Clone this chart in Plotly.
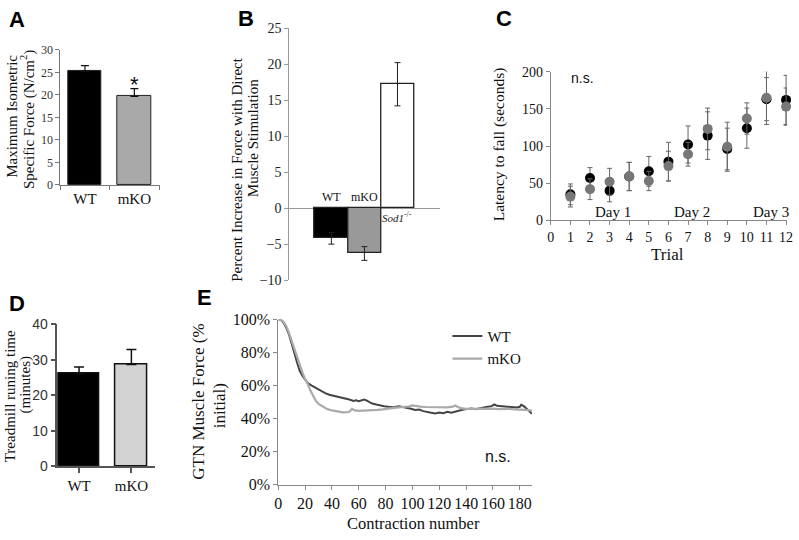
import plotly.graph_objects as go

# ---------------- data ----------------
# A: maximum isometric specific force
a_groups = ["WT", "mKO"]
a_force = [25.3, 19.7]
a_err = [1.2, 1.7]

# B: percent increase in force with direct muscle stimulation
b_groups = ["WT", "mKO", "Sod1-/-"]
b_change = [-4.2, -6.3, 17.2]
b_err = [0.8, 0.95, 3.0]

# C: latency to fall per trial
c_trials = [1, 2, 3, 4, 5, 6, 7, 8, 9, 10, 11, 12]
c_wt = [35, 57, 40, 59, 66, 79, 102, 114, 96, 124, 163, 162]
c_wt_err = [14, 14, 15, 19, 20, 26, 25, 32, 28, 27, 29, 33]
c_mko = [32, 42, 52, 59, 53, 73, 89, 123, 99, 137, 165, 153]
c_mko_err = [14, 14, 18, 19, 13, 20, 16, 28, 33, 21, 36, 25]
c_days = ["Day 1", "Day 2", "Day 3"]

# D: treadmill running time
d_groups = ["WT", "mKO"]
d_time = [26.1, 28.7]
d_err = [1.9, 4.2]

# E: GTN muscle force (% initial) vs contraction number
e_wt_x = [0, 2, 4, 6, 8, 10, 12, 14, 16, 18, 20, 22, 25, 28, 31, 35, 38, 42, 46, 50,
          53, 56, 58, 60, 62, 64, 66, 68, 70, 73, 76, 79, 82, 86, 90, 93, 96, 99, 102,
          105, 108, 111, 114, 117, 120, 123, 126, 129, 132, 135, 138, 141, 144, 147,
          150, 153, 156, 159, 161, 163, 166, 169, 172, 175, 178, 180, 181, 183, 185,
          187, 189]
e_wt = [100, 100, 98, 95, 91, 86, 80, 74, 69, 66, 63.5, 61.5, 60, 58.5, 57, 55.5, 54.5,
        53.8, 53, 52.2, 51.6, 50.8, 51.2, 50.6, 51.3, 51.6, 50.9, 49.8, 49.2, 48.6, 48.3,
        47.6, 47.2, 47.0, 47.6, 47.2, 46.6, 46.0, 45.3, 45.6, 44.6, 44.3, 43.6, 43.2, 43.8,
        43.3, 44.2, 43.6, 44.3, 45.2, 45.6, 45.9, 46.2, 45.8, 46.4, 46.6, 47.2, 47.6, 48.6,
        47.8, 47.6, 47.3, 47.1, 47.3, 46.8, 47.2, 48.4, 47.6, 45.8, 44.6, 43.0]
e_mko_x = [0, 2, 4, 6, 8, 10, 12, 14, 16, 18, 20, 22, 24, 26, 28, 30, 33, 36, 39, 42,
           45, 48, 51, 53, 55, 57, 60, 63, 66, 70, 74, 78, 82, 86, 90, 94, 97, 100, 103,
           106, 110, 114, 118, 122, 126, 130, 132, 134, 137, 140, 144, 148, 152, 156,
           160, 164, 168, 172, 176, 180, 184, 187, 189]
e_mko = [100, 100, 98.5, 96, 92, 87, 82, 77, 72, 68, 64, 61, 57, 53.5, 50.8, 49, 47.5,
         46, 45.2, 44.6, 44, 43.8, 43.9, 44.2, 45.9, 45, 44.7, 44.8, 44.6, 45, 45.3, 45.6,
         46.2, 46.6, 46.9, 47.1, 47.4, 48.1, 47.6, 47.3, 47.1, 47, 47.2, 47, 46.9, 47.3,
         48, 47, 46.2, 46, 46.1, 45.9, 46, 46.2, 46.1, 45.8, 46, 45.9, 45.7, 45.6, 45.5,
         45.2, 44.8]

# ---------------- helpers ----------------
W, H = 799, 540
SERIF = "Liberation Serif"
SANS = "Liberation Sans"


def px(x):
    return x / W


def py(y):
    return 1 - y / H


def dom_x(a, b):
    return [px(a), px(b)]


def dom_y(top, bottom):
    return [py(bottom), py(top)]


fig = go.Figure()

# A
fig.add_trace(go.Bar(
    x=a_groups, y=a_force, width=0.68,
    marker=dict(color=["#000000", "#a9a9a9"], line=dict(color="#222222", width=1)),
    error_y=dict(type="data", symmetric=False, array=a_err, arrayminus=[0] * len(a_err),
                 color="#111111", thickness=1.2, width=4),
    xaxis="x", yaxis="y", showlegend=False))

# B
fig.add_trace(go.Bar(
    x=b_groups, y=b_change, width=1.0,
    marker=dict(color=["#000000", "#999999", "#ffffff"], line=dict(color="#222222", width=1.3)),
    error_y=dict(type="data", array=b_err, color="#222222", thickness=1, width=3),
    xaxis="x2", yaxis="y2", showlegend=False))

# C
fig.add_trace(go.Scatter(
    x=c_trials, y=c_wt, mode="markers",
    marker=dict(color="#000000", size=10),
    error_y=dict(type="data", array=c_wt_err, color="#666666", thickness=1, width=2.5),
    xaxis="x3", yaxis="y3", showlegend=False, cliponaxis=False))
fig.add_trace(go.Scatter(
    x=c_trials, y=c_mko, mode="markers",
    marker=dict(color="#777777", size=10),
    error_y=dict(type="data", array=c_mko_err, color="#666666", thickness=1, width=2.5),
    xaxis="x3", yaxis="y3", showlegend=False, cliponaxis=False))

# D
fig.add_trace(go.Bar(
    x=d_groups, y=d_time, width=[0.79, 0.62],
    marker=dict(color=["#000000", "#d3d3d3"], line=dict(color="#111111", width=1.5)),
    error_y=dict(type="data", symmetric=False, array=d_err, arrayminus=[0] * len(d_err),
                 color="#111111", thickness=1.5, width=5),
    xaxis="x4", yaxis="y4", showlegend=False))

# E
fig.add_trace(go.Scatter(
    x=e_wt_x, y=e_wt, mode="lines", name="WT",
    line=dict(color="#444444", width=2),
    xaxis="x5", yaxis="y5"))
fig.add_trace(go.Scatter(
    x=e_mko_x, y=e_mko, mode="lines", name="mKO",
    line=dict(color="#aaaaaa", width=2.2),
    xaxis="x5", yaxis="y5"))

axis_common = dict(showgrid=False, zeroline=False, showline=True, ticks="outside",
                   fixedrange=True)

fig.update_layout(
    width=W, height=H, margin=dict(l=0, r=0, t=0, b=0),
    paper_bgcolor="white", plot_bgcolor="white",
    font=dict(family=SERIF, color="#111111"),
    bargap=0,
    # A
    xaxis=dict(**axis_common, domain=dom_x(57, 158), anchor="y", type="category",
               range=[-0.5, 1.52], tickson="boundaries", ticklen=4, linecolor="#777777",
               tickcolor="#777777", tickfont=dict(family=SERIF, size=15, color="#111111")),
    yaxis=dict(**axis_common, domain=dom_y(43.3, 182.7), anchor="x", range=[0, 30],
               dtick=5, ticklen=4, linecolor="#777777", tickcolor="#777777",
               tickfont=dict(family=SERIF, size=12, color="#333333")),
    # B
    xaxis2=dict(showgrid=False, zeroline=False, showline=False, showticklabels=False,
                ticks="", domain=dom_x(289, 442), anchor="y2", type="category",
                range=[-1.27, 3.3], fixedrange=True),
    yaxis2=dict(showgrid=False, showline=True, ticks="outside", ticklen=4,
                domain=dom_y(20.7, 281), anchor="x2", range=[-10, 25], dtick=5,
                zeroline=True, zerolinecolor="#999999", zerolinewidth=1,
                linecolor="#999999", tickcolor="#999999",
                tickfont=dict(family=SERIF, size=14, color="#222222"), fixedrange=True),
    # C
    xaxis3=dict(**axis_common, domain=dom_x(553.7, 793), anchor="y3", range=[0, 12.05],
                dtick=1, ticklen=4, linecolor="#888888", tickcolor="#888888",
                ticklabeloverflow="allow",
                tickfont=dict(family=SERIF, size=14, color="#111111")),
    yaxis3=dict(**axis_common, domain=dom_y(65.7, 219.3), anchor="x3", range=[0, 200],
                dtick=50, ticklen=4, linecolor="#888888", tickcolor="#888888",
                tickfont=dict(family=SERIF, size=14, color="#111111")),
    # D
    xaxis4=dict(**axis_common, domain=dom_x(54, 152.7), anchor="y4", type="category",
                range=[-0.415, 1.447], ticklen=5, linecolor="#555555", linewidth=1.5,
                tickcolor="#555555", tickwidth=1.5,
                tickfont=dict(family=SERIF, size=15, color="#111111")),
    yaxis4=dict(**axis_common, domain=dom_y(326.7, 473.3), anchor="x4", range=[0, 40],
                dtick=10, ticklen=5, linecolor="#555555", linewidth=1.5,
                tickcolor="#555555", tickwidth=1.5,
                tickfont=dict(family=SANS, size=14, color="#333333")),
    # E
    xaxis5=dict(**axis_common, domain=dom_x(277.7, 535), anchor="y5", range=[0, 189.3],
                dtick=20, ticklen=4, linecolor="#888888", tickcolor="#888888",
                tickfont=dict(family=SERIF, size=16, color="#111111")),
    yaxis5=dict(**axis_common, domain=dom_y(321.7, 492.3), anchor="x5", range=[0, 100],
                dtick=20, ticksuffix="%", ticklen=4, linecolor="#888888",
                tickcolor="#888888", tickfont=dict(family=SERIF, size=16, color="#111111")),
    legend=dict(x=px(449), y=py(322), xanchor="left", yanchor="top",
                font=dict(family=SERIF, size=15, color="#111111"),
                bgcolor="rgba(0,0,0,0)", tracegroupgap=0, itemwidth=30),
)

ann = []


def paper_text(x, y, text, size, family=SERIF, angle=0, color="#111111"):
    ann.append(dict(xref="paper", yref="paper", x=px(x), y=py(y), text=text,
                    showarrow=False, textangle=angle, xanchor="center", yanchor="middle",
                    font=dict(family=family, size=size, color=color)))


# panel letters
for letter, (lx, ly) in {"A": (13, 12), "B": (245, 11), "C": (506, 11),
                         "D": (13, 305), "E": (203, 299)}.items():
    paper_text(lx, ly, "<b>%s</b>" % letter, 22, family=SANS, color="#000000")

# axis titles (each line placed on its own)
paper_text(8.5, 112, "Maximum Isometric", 15, angle=-90)
paper_text(24, 115, "Specific Force (N/cm<sup>2</sup>)", 15, angle=-90)
paper_text(236, 167, "Percent Increase in Force with Direct", 15, angle=-90)
paper_text(251.5, 134, "Muscle Stimulation", 15, angle=-90)
paper_text(501, 141, "Latency to fall (seconds)", 15.5, angle=-90)
paper_text(672, 254, "Trial", 17)
paper_text(6, 401, "Treadmill runing time", 15, angle=-90)
paper_text(22, 389, "(minutes)", 15, angle=-90)
paper_text(197, 407, "GTN Muscle Force (%", 17, angle=-90)
paper_text(218, 411, "initial)", 17, angle=-90)
paper_text(415, 532, "Contraction number", 16.5)

# A asterisk
ann.append(dict(xref="x", yref="y", x="mKO", y=22.3, text="*", showarrow=False,
                font=dict(family=SANS, size=22, color="#111111")))

# B bar labels
ann.append(dict(xref="x2", yref="y2", x="WT", y=0, yanchor="bottom", yshift=2,
                text="WT", showarrow=False, font=dict(family=SERIF, size=12)))
ann.append(dict(xref="x2", yref="y2", x="mKO", y=0, yanchor="bottom", yshift=2,
                text="mKO", showarrow=False, font=dict(family=SERIF, size=12)))
ann.append(dict(xref="x2", yref="y2", x="Sod1-/-", y=0, yanchor="top", yshift=0,
                text="<i>Sod1</i><sup>-/-</sup>", showarrow=False,
                font=dict(family=SERIF, size=11, color="#222222")))

# C labels
for day, dx in zip(c_days, [3.16, 7.2, 11.25]):
    ann.append(dict(xref="x3", yref="y3", x=dx, y=11, text=day, showarrow=False,
                    font=dict(family=SERIF, size=15)))
ann.append(dict(xref="x3", yref="y3", x=1.6, y=191, text="n.s.", showarrow=False,
                font=dict(family=SANS, size=14)))

# E n.s.
paper_text(500, 463, "n.s.", 16, family=SANS)

fig.update_layout(annotations=ann)
fig.write_html(
    "out.html",
    config={"displayModeBar": False},
    post_script="document.body.style.margin='0';document.body.style.overflow='hidden';",
)
